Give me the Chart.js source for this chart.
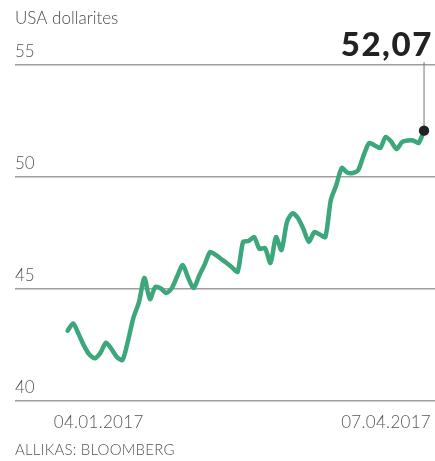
<!DOCTYPE html>
<html>
<head>
<meta charset="utf-8">
<script src="https://cdn.jsdelivr.net/npm/chart.js@4"></script>
<style>
  html, body { margin: 0; padding: 0; background: #fff; }
  canvas { display: block; }
</style>
</head>
<body>
<canvas id="c" width="435" height="461"></canvas>
<script>
const title = "USA dollarites";
const source = "ALLIKAS: BLOOMBERG";
const lastLabel = "52,07";
const startDate = "04.01.2017";
const endDate = "07.04.2017";
const yTicks = [40, 45, 50, 55];
const prices = [
  43.14, 43.46, 42.99, 42.46, 42.06, 41.91, 42.16, 42.60, 42.32, 41.96,
  41.83, 42.68, 43.72, 44.40, 45.49, 44.55, 45.09, 45.02, 44.82, 45.04,
  45.58, 46.07, 45.49, 45.04, 45.60, 46.10, 46.65, 46.52, 46.34, 46.16,
  45.96, 45.77, 47.10, 47.14, 47.32, 46.79, 46.83, 46.16, 47.32, 46.74,
  47.99, 48.38, 48.17, 47.68, 47.11, 47.54, 47.43, 47.32, 48.97, 49.64,
  50.40, 50.20, 50.18, 50.31, 50.98, 51.52, 51.41, 51.29, 51.79, 51.58,
  51.25, 51.56, 51.63, 51.63, 51.52, 52.07
];

const FONT = "Lato, 'Open Sans', sans-serif";
const last = prices.length - 1;

const overlay = {
  id: 'overlay',
  afterDraw(chart) {
    const ctx = chart.ctx;
    const ys = chart.scales.y, xs = chart.scales.x;
    ctx.save();
    // title
    ctx.fillStyle = '#4a4a4a';
    ctx.font = '300 17px ' + FONT;
    ctx.textAlign = 'left';
    ctx.textBaseline = 'alphabetic';
    ctx.fillText(title, 15, 24);
    // y tick labels above grid lines
    ctx.fillStyle = '#555';
    ctx.font = '300 17px ' + FONT;
    yTicks.forEach(v => {
      ctx.fillText(String(v), 15, ys.getPixelForValue(v) - 8);
    });
    // date labels
    const by = ys.getPixelForValue(40) + 27;
    ctx.letterSpacing = '0.3px';
    ctx.textAlign = 'center';
    ctx.fillText(startDate, xs.getPixelForValue(0) + 31, by);
    ctx.textAlign = 'right';
    ctx.fillText(endDate, xs.getPixelForValue(last) + 7, by);
    // source
    ctx.textAlign = 'left';
    ctx.fillStyle = '#555';
    ctx.font = '300 15px ' + FONT;
    ctx.letterSpacing = '0.2px';
    ctx.fillText(source, 15, 455);
    ctx.letterSpacing = '0px';
    // callout line
    const px = xs.getPixelForValue(last), py = ys.getPixelForValue(prices[last]);
    ctx.strokeStyle = '#777';
    ctx.lineWidth = 1;
    ctx.beginPath();
    ctx.moveTo(px, py);
    ctx.lineTo(px, 62);
    ctx.stroke();
    // dot
    ctx.fillStyle = '#222';
    ctx.beginPath();
    ctx.arc(px, py, 5.2, 0, Math.PI * 2);
    ctx.fill();
    // big label
    ctx.fillStyle = '#222';
    ctx.font = '900 33px ' + FONT;
    ctx.letterSpacing = '1.6px';
    ctx.textAlign = 'right';
    ctx.fillText(lastLabel, 433, 56);
    ctx.restore();
  }
};

new Chart(document.getElementById('c'), {
  type: 'line',
  data: {
    datasets: [{
      data: prices.map((v, i) => ({ x: i, y: v })),
      borderColor: '#3ba77a',
      borderWidth: 4.5,
      pointRadius: 0,
      tension: 0.25,
      borderCapStyle: 'round',
      borderJoinStyle: 'round',
      fill: false
    }]
  },
  options: {
    responsive: false,
    animation: false,
    devicePixelRatio: 1,
    layout: { padding: { left: 15, right: 0, top: 65, bottom: 60 } },
    plugins: { legend: { display: false }, tooltip: { enabled: false } },
    scales: {
      x: {
        type: 'linear',
        min: -9.6,
        max: 67,
        display: false
      },
      y: {
        min: 40,
        max: 55,
        afterBuildTicks: s => { s.ticks = yTicks.map(v => ({ value: v })); },
        ticks: { display: false },
        border: { display: false },
        grid: { color: '#9e9e9e', lineWidth: 1.5, drawTicks: false }
      }
    }
  },
  plugins: [overlay]
});
</script>
</body>
</html>
